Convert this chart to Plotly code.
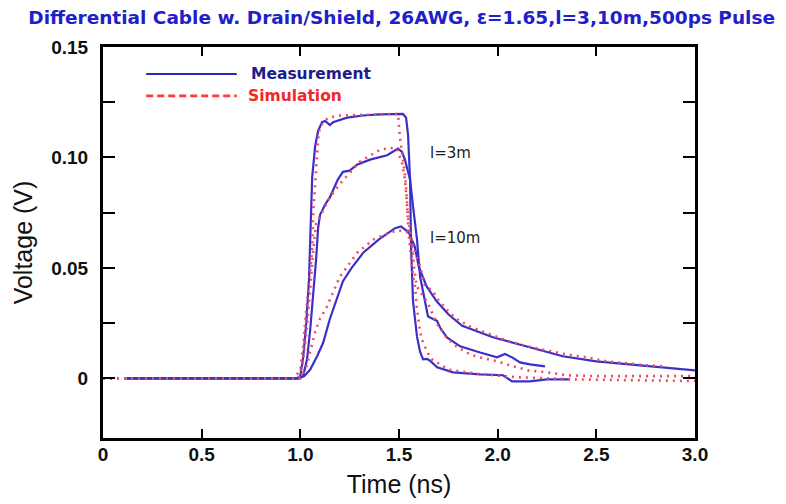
import plotly.graph_objects as go

# ---------------- data ----------------
# Measurement, top curve (~0.12 V plateau)
meas_a_t = [0.12, 0.5, 0.98, 1.0, 1.015, 1.03, 1.044, 1.06, 1.075, 1.09, 1.11, 1.125, 1.15, 1.166,
            1.2, 1.237, 1.318, 1.40, 1.52, 1.536, 1.546, 1.556, 1.561, 1.571, 1.591, 1.607, 1.622,
            1.642, 1.657, 1.693, 1.774, 1.911, 2.027, 2.053, 2.073, 2.164, 2.25, 2.367]
meas_a_v = [0.0, 0.0, 0.0, 0.001, 0.01, 0.025, 0.045, 0.091, 0.105, 0.112, 0.116, 0.1165, 0.1147, 0.116,
            0.117, 0.118, 0.119, 0.1195, 0.1197, 0.118, 0.11, 0.09, 0.06, 0.035, 0.019, 0.012, 0.0086,
            0.0088, 0.008, 0.005, 0.0027, 0.0018, 0.0014, 0.0, -0.0014, -0.0014, -0.0005, -0.0005]

# Measurement, l=3m
meas_b_t = [0.12, 0.5, 0.99, 1.014, 1.034, 1.05, 1.064, 1.08, 1.09, 1.10, 1.125, 1.15, 1.19, 1.216,
            1.25, 1.287, 1.353, 1.44, 1.495, 1.515, 1.53, 1.556, 1.571, 1.591, 1.607, 1.632, 1.647,
            1.693, 1.708, 1.743, 1.81, 1.911, 1.997, 2.037, 2.073, 2.113, 2.164, 2.24]
meas_b_v = [0.0, 0.0, 0.0, 0.001, 0.0086, 0.022, 0.036, 0.054, 0.068, 0.074, 0.0786, 0.082, 0.090, 0.0935,
            0.094, 0.0967, 0.099, 0.101, 0.104, 0.1025, 0.099, 0.090, 0.078, 0.063, 0.046, 0.034, 0.028,
            0.026, 0.023, 0.0185, 0.0145, 0.0117, 0.0095, 0.011, 0.0095, 0.0072, 0.0063, 0.0054]

# Measurement, l=10m
meas_c_t = [0.12, 0.5, 0.99, 1.02, 1.05, 1.085, 1.115, 1.15, 1.186, 1.216, 1.26, 1.32, 1.40, 1.48,
            1.51, 1.55, 1.58, 1.60, 1.64, 1.69, 1.75, 1.82, 1.98, 2.16, 2.33, 2.50, 2.67, 2.84, 3.0]
meas_c_v = [0.0, 0.0, 0.0, 0.001, 0.004, 0.01, 0.016, 0.027, 0.036, 0.044, 0.050, 0.057, 0.063, 0.068,
            0.0688, 0.066, 0.0597, 0.0506, 0.0416, 0.035, 0.029, 0.0238, 0.0185, 0.014, 0.01, 0.0077,
            0.0063, 0.005, 0.0036]

# Simulation, top curve
sim_a_t = [0.0, 0.5, 0.97, 1.0, 1.014, 1.024, 1.034, 1.044, 1.06, 1.066, 1.075, 1.085, 1.09, 1.10,
           1.14, 1.2, 1.495, 1.505, 1.52, 1.53, 1.54, 1.546, 1.56, 1.571, 1.58, 1.59, 1.607, 1.622,
           1.66, 1.75, 1.9, 2.1, 2.4, 3.0]
sim_a_v = [0.0, 0.0, 0.0, 0.004, 0.0145, 0.025, 0.034, 0.043, 0.058, 0.076, 0.0885, 0.098, 0.108, 0.114,
           0.118, 0.119, 0.1197, 0.109, 0.100, 0.093, 0.081, 0.069, 0.055, 0.046, 0.043, 0.0325, 0.021,
           0.016, 0.009, 0.004, 0.002, 0.0005, -0.0005, -0.0012]

# Simulation, l=3m
sim_b_t = [0.0, 0.5, 0.99, 1.01, 1.03, 1.05, 1.065, 1.08, 1.115, 1.15, 1.21, 1.30, 1.404, 1.455,
           1.49, 1.515, 1.53, 1.54, 1.546, 1.566, 1.576, 1.59, 1.647, 1.69, 1.74, 1.79, 1.86, 1.91,
           2.0, 2.08, 2.16, 2.25, 2.35, 2.5, 3.0]
sim_b_v = [0.0, 0.0, 0.0, 0.006, 0.02, 0.04, 0.058, 0.07, 0.076, 0.082, 0.089, 0.098, 0.1035, 0.1043,
           0.104, 0.0976, 0.090, 0.081, 0.073, 0.061, 0.0506, 0.0416, 0.034, 0.025, 0.0185, 0.0145,
           0.0108, 0.0095, 0.0077, 0.0054, 0.0035, 0.0027, 0.0014, 0.001, 0.001]

# Simulation, l=10m
sim_c_t = [0.0, 0.5, 1.0, 1.03, 1.05, 1.075, 1.10, 1.135, 1.176, 1.2, 1.29, 1.37, 1.455, 1.495,
           1.546, 1.571, 1.607, 1.632, 1.667, 1.698, 1.743, 1.794, 1.86, 2.048, 2.149, 2.25, 2.352,
           2.453, 2.554, 2.656, 2.757, 2.859]
sim_c_v = [0.0, 0.0, 0.0, 0.005, 0.012, 0.021, 0.027, 0.0325, 0.041, 0.046, 0.057, 0.0628, 0.066, 0.067,
           0.066, 0.060, 0.0506, 0.0416, 0.040, 0.0357, 0.031, 0.0267, 0.0235, 0.017, 0.0145, 0.0126,
           0.0108, 0.0095, 0.0077, 0.0068, 0.0059, 0.0054]

x_tickvals = [0, 0.5, 1.0, 1.5, 2.0, 2.5, 3.0]
x_ticktext = ["0", "0.5", "1.0", "1.5", "2.0", "2.5", "3.0"]
y_tickvals = [0, 0.025, 0.05, 0.075, 0.10, 0.125, 0.15]
y_ticktext = ["0", "", "0.05", "", "0.10", "", "0.15"]

curve_labels = ["l=3m", "l=10m"]
curve_label_t = [1.647, 1.647]
curve_label_v = [0.102, 0.0637]

title_text = "Differential Cable w. Drain/Shield, 26AWG, \u03b5=1.65,l=3,10m,500ps Pulse"
legend_names = ["Measurement", "Simulation"]

# ---------------- styles ----------------
BLUE = "#3a30c8"
RED = "#f2485e"

fig = go.Figure()
for t, v in [(meas_a_t, meas_a_v), (meas_b_t, meas_b_v), (meas_c_t, meas_c_v)]:
    fig.add_trace(go.Scatter(x=t, y=v, mode="lines", line=dict(color=BLUE, width=2.2),
                             showlegend=False, hoverinfo="skip"))
for t, v in [(sim_a_t, sim_a_v), (sim_b_t, sim_b_v), (sim_c_t, sim_c_v)]:
    fig.add_trace(go.Scatter(x=t, y=v, mode="lines",
                             line=dict(color=RED, width=2.6, dash="2px,5px"),
                             showlegend=False, hoverinfo="skip"))

# legend (drawn as shapes + text, long sample lines like the reference)
fig.add_shape(type="line", xref="paper", yref="paper", x0=0.073, x1=0.226, y0=0.931, y1=0.931,
              line=dict(color="#2a2ab8", width=2.2))
fig.add_shape(type="line", xref="paper", yref="paper", x0=0.073, x1=0.226, y0=0.875, y1=0.875,
              line=dict(color="#ff3a3a", width=2.6, dash="7px,4px"))
fig.add_annotation(xref="paper", yref="paper", x=0.247, y=0.931, xanchor="left", yanchor="middle",
                   text=legend_names[0], showarrow=False,
                   font=dict(family="DejaVu Sans", size=15.5, color="#1c1c8a", weight="bold"))
fig.add_annotation(xref="paper", yref="paper", x=0.242, y=0.875, xanchor="left", yanchor="middle",
                   text=legend_names[1], showarrow=False,
                   font=dict(family="DejaVu Sans", size=15.5, color="#f02828", weight="bold"))

for lab, t, v in zip(curve_labels, curve_label_t, curve_label_v):
    fig.add_annotation(x=t, y=v, xref="x", yref="y", text=lab, showarrow=False,
                       xanchor="left", yanchor="middle",
                       font=dict(family="DejaVu Sans", size=15, color="#222222"))

axis_common = dict(showgrid=False, zeroline=False, showline=True, linecolor="black", linewidth=3,
                   mirror="allticks", ticks="inside", tickcolor="black", tickwidth=2,
                   tickfont=dict(family="Liberation Sans", size=19, color="#111111", weight="bold"))

fig.update_xaxes(range=[0, 3.0], tickvals=x_tickvals, ticktext=x_ticktext, ticklen=9,
                 ticklabelstandoff=-3,
                 title=dict(text="Time (ns)", standoff=12,
                            font=dict(family="Liberation Sans", size=25, color="#111111")),
                 **axis_common)
fig.update_yaxes(range=[-0.027, 0.15], tickvals=y_tickvals, ticktext=y_ticktext, ticklen=12,
                 ticklabelstandoff=8,
                 title=dict(text="Voltage (V)", standoff=12,
                            font=dict(family="Liberation Sans", size=25, color="#111111")),
                 **axis_common)

fig.update_layout(
    width=786, height=504,
    margin=dict(l=103, r=91, t=47, b=66, autoexpand=False),
    paper_bgcolor="white", plot_bgcolor="white",
    title=dict(text=title_text, x=0.511, xanchor="center", xref="container",
               y=1 - 18 / 504, yanchor="middle",
               font=dict(family="DejaVu Sans", size=18.5, color="#2020c8", weight="bold")),
    showlegend=False,
)

fig.write_html("out.html")
